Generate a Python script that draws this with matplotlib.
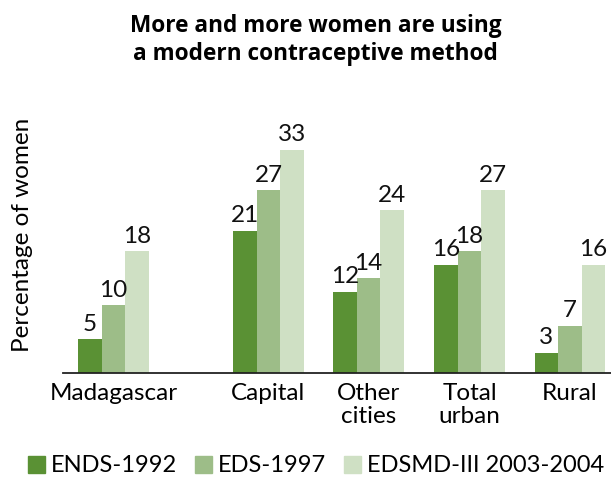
import matplotlib.pyplot as plt
from matplotlib.patches import Patch

plt.rcParams['font.family'] = ['Lato', 'DejaVu Sans']

# data
categories = ['Madagascar', 'Capital', 'Other\ncities', 'Total\nurban', 'Rural']
series_names = ['ENDS-1992', 'EDS-1997', 'EDSMD-III 2003-2004']
ends_1992 = [5, 21, 12, 16, 3]
eds_1997 = [10, 27, 14, 18, 7]
edsmd_2004 = [18, 33, 24, 27, 16]

colors = ['#5a9134', '#9dbd88', '#cfe0c4']
group_pos = [0, 1.55, 2.55, 3.56, 4.565]
w = 0.235

fig = plt.figure(figsize=(6.11, 4.79), dpi=100)
ax = fig.add_axes([63 / 611, 106 / 479, 1 - 63 / 611, 237 / 479])

for i, vals in enumerate([ends_1992, eds_1997, edsmd_2004]):
    xs = [p + (i - 1) * w for p in group_pos]
    ax.bar(xs, vals, width=w, color=colors[i], label=series_names[i])
    for x, v in zip(xs, vals):
        ax.annotate(str(v), (x, v), xytext=(0, 6), textcoords='offset points',
                    ha='center', va='baseline', fontsize=17.5, color='#111111')

ax.set_xlim(-0.505, 4.975)
ax.set_ylim(0, 35)
ax.set_xticks(group_pos)
ax.set_xticklabels(categories, fontsize=17.5, linespacing=1.12)
ax.tick_params(axis='x', length=0, pad=7)
ax.set_yticks([])
for s in ['top', 'right', 'left']:
    ax.spines[s].set_visible(False)
ax.spines['bottom'].set_linewidth(1.3)
ax.spines['bottom'].set_color('#222222')

fig.text(23 / 611, 1 - 235 / 479, 'Percentage of women', rotation=90,
         ha='center', va='center', fontsize=17.5)
fig.text(0.517, 1 - 40 / 479, 'More and more women are using\na modern contraceptive method',
         ha='center', va='center', fontsize=16.3, fontweight='bold', linespacing=1.18,
         family=['Open Sans', 'DejaVu Sans'])

handles = [Patch(color=c) for c in colors]
fig.legend(handles, series_names, loc='center', bbox_to_anchor=(0.517, 1 - 466 / 479),
           ncol=3, frameon=False, fontsize=17, handlelength=0.72, handleheight=0.72,
           handletextpad=0.25, columnspacing=0.75, borderpad=0)

fig.savefig('out.png', dpi=100)
